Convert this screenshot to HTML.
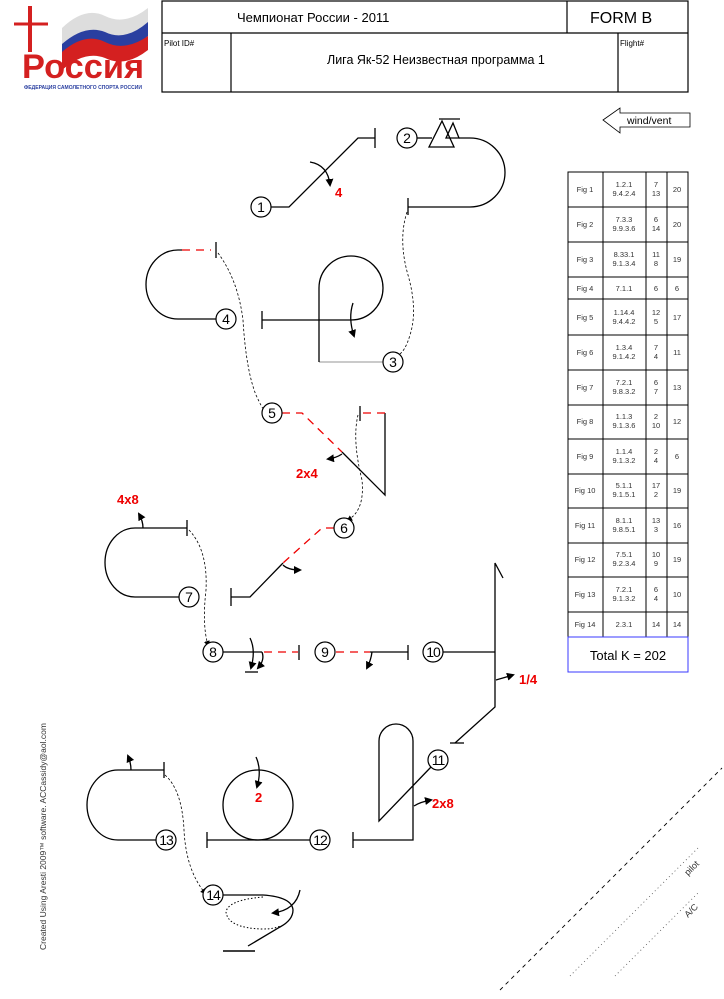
<!DOCTYPE html>
<html><head><meta charset="utf-8"><style>
html,body{margin:0;padding:0;background:#fff;}
svg{display:block;font-family:"Liberation Sans","DejaVu Sans",sans-serif;}
</style></head><body>
<svg width="724" height="999" viewBox="0 0 724 999" xmlns="http://www.w3.org/2000/svg">
<!-- logo -->
<g>
<path d="M62 40 Q85 18 105 28 Q125 38 148 20 L148 36 Q125 56 105 46 Q85 38 62 58 Z" fill="#2a3fa0"/>
<path d="M62 28 Q85 6 105 16 Q125 26 148 8 L148 22 Q125 42 105 32 Q85 24 62 44 Z" fill="#ddd"/>
<path d="M62 52 Q85 32 105 42 Q125 52 148 36 L148 50 Q125 68 105 58 Q85 50 62 70 Z" fill="#d42020"/>
<line x1="30" y1="6" x2="30" y2="52" stroke="#d42020" stroke-width="4"/>
<line x1="14" y1="24" x2="48" y2="24" stroke="#d42020" stroke-width="3"/>
<text x="22" y="78" font-size="34" font-weight="bold" fill="#d42020" textLength="122" lengthAdjust="spacingAndGlyphs">Россия</text>
<text x="24" y="89" font-size="5.5" fill="#2a3fa0" font-weight="bold" textLength="118" lengthAdjust="spacingAndGlyphs">ФЕДЕРАЦИЯ САМОЛЕТНОГО СПОРТА РОССИИ</text>
</g>
<!-- header -->
<g stroke="#000" stroke-width="1.2" fill="none">
<rect x="162" y="1" width="526" height="91"/>
<line x1="162" y1="33" x2="688" y2="33"/>
<line x1="567" y1="1" x2="567" y2="33"/>
<line x1="231" y1="33" x2="231" y2="92"/>
<line x1="618" y1="33" x2="618" y2="92"/>
</g>
<text x="237" y="22" font-size="13">Чемпионат России - 2011</text>
<text x="590" y="23" font-size="16">FORM  B</text>
<text x="164" y="46" font-size="8">Pilot ID#</text>
<text x="620" y="46" font-size="8">Flight#</text>
<text x="327" y="64" font-size="12.5">Лига Як-52  Неизвестная программа 1</text>
<!-- wind arrow -->
<path d="M603 120 L620 108 L620 113 L690 113 L690 127 L620 127 L620 133 Z" fill="none" stroke="#000" stroke-width="0.8"/>
<text x="627" y="124" font-size="10.5">wind/vent</text>
<!-- table -->
<g stroke="#000" stroke-width="1" fill="none">
<rect x="568" y="172" width="120" height="465"/>
<line x1="603" y1="172" x2="603" y2="637"/>
<line x1="646" y1="172" x2="646" y2="637"/>
<line x1="667" y1="172" x2="667" y2="637"/>
<line x1="568" y1="207" x2="688" y2="207"/>
<line x1="568" y1="242" x2="688" y2="242"/>
<line x1="568" y1="277" x2="688" y2="277"/>
<line x1="568" y1="299" x2="688" y2="299"/>
<line x1="568" y1="335" x2="688" y2="335"/>
<line x1="568" y1="370" x2="688" y2="370"/>
<line x1="568" y1="405" x2="688" y2="405"/>
<line x1="568" y1="439" x2="688" y2="439"/>
<line x1="568" y1="474" x2="688" y2="474"/>
<line x1="568" y1="508" x2="688" y2="508"/>
<line x1="568" y1="543" x2="688" y2="543"/>
<line x1="568" y1="577" x2="688" y2="577"/>
<line x1="568" y1="612" x2="688" y2="612"/>
</g>
<rect x="568" y="637" width="120" height="35" fill="none" stroke="#3a3aff" stroke-width="1"/>
<g font-size="7.5" fill="#333" text-anchor="middle">
<text x="585" y="192">Fig 1</text><text x="624" y="187">1.2.1</text><text x="624" y="196">9.4.2.4</text><text x="656" y="187">7</text><text x="656" y="196">13</text><text x="677" y="192">20</text>
<text x="585" y="227">Fig 2</text><text x="624" y="222">7.3.3</text><text x="624" y="231">9.9.3.6</text><text x="656" y="222">6</text><text x="656" y="231">14</text><text x="677" y="227">20</text>
<text x="585" y="262">Fig 3</text><text x="624" y="257">8.33.1</text><text x="624" y="266">9.1.3.4</text><text x="656" y="257">11</text><text x="656" y="266">8</text><text x="677" y="262">19</text>
<text x="585" y="291">Fig 4</text><text x="624" y="291">7.1.1</text><text x="656" y="291">6</text><text x="677" y="291">6</text>
<text x="585" y="320">Fig 5</text><text x="624" y="315">1.14.4</text><text x="624" y="324">9.4.4.2</text><text x="656" y="315">12</text><text x="656" y="324">5</text><text x="677" y="320">17</text>
<text x="585" y="355">Fig 6</text><text x="624" y="350">1.3.4</text><text x="624" y="359">9.1.4.2</text><text x="656" y="350">7</text><text x="656" y="359">4</text><text x="677" y="355">11</text>
<text x="585" y="390">Fig 7</text><text x="624" y="385">7.2.1</text><text x="624" y="394">9.8.3.2</text><text x="656" y="385">6</text><text x="656" y="394">7</text><text x="677" y="390">13</text>
<text x="585" y="424">Fig 8</text><text x="624" y="419">1.1.3</text><text x="624" y="428">9.1.3.6</text><text x="656" y="419">2</text><text x="656" y="428">10</text><text x="677" y="424">12</text>
<text x="585" y="459">Fig 9</text><text x="624" y="454">1.1.4</text><text x="624" y="463">9.1.3.2</text><text x="656" y="454">2</text><text x="656" y="463">4</text><text x="677" y="459">6</text>
<text x="585" y="493">Fig 10</text><text x="624" y="488">5.1.1</text><text x="624" y="497">9.1.5.1</text><text x="656" y="488">17</text><text x="656" y="497">2</text><text x="677" y="493">19</text>
<text x="585" y="528">Fig 11</text><text x="624" y="523">8.1.1</text><text x="624" y="532">9.8.5.1</text><text x="656" y="523">13</text><text x="656" y="532">3</text><text x="677" y="528">16</text>
<text x="585" y="562">Fig 12</text><text x="624" y="557">7.5.1</text><text x="624" y="566">9.2.3.4</text><text x="656" y="557">10</text><text x="656" y="566">9</text><text x="677" y="562">19</text>
<text x="585" y="597">Fig 13</text><text x="624" y="592">7.2.1</text><text x="624" y="601">9.1.3.2</text><text x="656" y="592">6</text><text x="656" y="601">4</text><text x="677" y="597">10</text>
<text x="585" y="627">Fig 14</text><text x="624" y="627">2.3.1</text><text x="656" y="627">14</text><text x="677" y="627">14</text>
</g>
<text x="628" y="660" font-size="13" text-anchor="middle">Total K = 202</text>

<defs><marker id="ah" markerWidth="8" markerHeight="8" refX="6" refY="4" orient="auto" markerUnits="userSpaceOnUse"><path d="M0 0 L8 4 L0 8 Z" fill="#000"/></marker>
<marker id="as" markerWidth="6" markerHeight="6" refX="4" refY="3" orient="auto" markerUnits="userSpaceOnUse"><path d="M0 0 L6 3 L0 6 Z" fill="#000"/></marker></defs>

<!-- fig3 grey bottom line -->
<line x1="319" y1="362" x2="383" y2="362" stroke="#aaa" stroke-width="1.3"/>

<g fill="none" stroke="#000" stroke-width="1.3">
<!-- fig1 -->
<path d="M271 207 L289 207 L358 138 L375 138"/><line x1="375" y1="128" x2="375" y2="148"/>
<path d="M310 162 Q328 165 330 185" marker-end="url(#ah)"/>
<!-- fig2 -->
<path d="M417 138 L432 138"/><path d="M442 121 L429 147 L454 147 Z"/><path d="M453 123 L446 138 L459 138 Z"/>
<line x1="439" y1="119" x2="460" y2="119"/>
<path d="M459 138 L470 138 A35 34.5 0 0 1 470 207 L408 207"/><line x1="408" y1="198" x2="408" y2="215"/>
<!-- fig3 -->
<path d="M319 362 L319 288 A32 32 0 1 1 351 320 L262 320" /><line x1="262" y1="311" x2="262" y2="329"/>
<path d="M353 303 Q348 318 354 336" marker-end="url(#ah)"/>
<!-- fig4 -->
<path d="M216 319 L178 319 A32 34.5 0 0 1 178 250 L182 250"/><line x1="216" y1="242" x2="216" y2="258"/>
<!-- fig5 -->
<path d="M342 452 L385 495 L385 413"/><line x1="360" y1="406" x2="360" y2="421"/>
<path d="M342 454 Q336 458 328 459" marker-end="url(#ah)"/>
<!-- fig6 -->
<path d="M283 563 L250 597 L231 597"/><line x1="231" y1="588" x2="231" y2="606"/>
<path d="M283 565 Q288 570 300 570" marker-end="url(#ah)"/>
<!-- fig7 -->
<path d="M179 597 L135 597 A30 34.5 0 0 1 135 528 L187 528"/><line x1="187" y1="520" x2="187" y2="536"/>
<path d="M143 528 Q143 521 139 514" marker-end="url(#ah)"/>
<!-- fig8 -->
<path d="M223 652 L262 652"/><line x1="299" y1="645" x2="299" y2="660"/>
<path d="M250 638 Q256 650 251 668" marker-end="url(#ah)"/>
<path d="M262 652 Q265 660 258 668" marker-end="url(#ah)"/>
<line x1="245" y1="672" x2="258" y2="672"/>
<!-- fig9 -->
<path d="M370 652 L408 652"/><line x1="408" y1="645" x2="408" y2="660"/>
<path d="M372 652 Q371 660 367 668" marker-end="url(#ah)"/>
<!-- fig10 -->
<path d="M443 652 L495 652"/><path d="M503 578 L495 563 L495 707 L455 743"/><line x1="450" y1="743" x2="464" y2="743"/>
<path d="M496 680 Q503 678 513 675" marker-end="url(#ah)"/>
<!-- fig11 -->
<path d="M431 767 L379 821 L379 741 A17 17 0 0 1 413 741 L413 840 L353 840"/><line x1="353" y1="832" x2="353" y2="848"/>
<path d="M414 806 Q420 802 431 800" marker-end="url(#ah)"/>
<!-- fig12 -->
<path d="M310 840 L207 840"/><line x1="207" y1="832" x2="207" y2="848"/>
<circle cx="258" cy="805" r="35"/>
<path d="M256 757 Q262 770 257 787" marker-end="url(#ah)"/>
<!-- fig13 -->
<path d="M156 840 L118 840 A31 35 0 0 1 118 770 L164 770"/><line x1="164" y1="762" x2="164" y2="778"/>
<path d="M131 770 Q131 763 128 756" marker-end="url(#ah)"/>
<!-- fig14 -->
<path d="M223 895 L263 895 Q292 897 293 910 Q293 920 280 927 L248 946"/>
<line x1="223" y1="951" x2="255" y2="951" stroke-width="1.5"/>
<path d="M300 890 Q296 910 273 913" marker-end="url(#ah)"/>
</g>
<path d="M263 897 Q228 900 226 912 Q228 928 262 929 Q275 929 280 926" fill="none" stroke="#000" stroke-width="1" stroke-dasharray="1.5 2"/>

<g fill="none" stroke="#e00" stroke-width="1.3" stroke-dasharray="8 6">
<path d="M182 250 L211 250"/>
<path d="M282 413 L302 413 L342 452"/>
<path d="M385 413 L362 413"/>
<path d="M334 528 L322 528 L283 563"/>
<path d="M264 652 L298 652"/>
<path d="M336 652 L370 652"/>
</g>

<g fill="none" stroke="#000" stroke-width="0.8" stroke-dasharray="2.5 2">
<path d="M407 212 Q398 240 408 275 Q418 310 410 335 Q405 352 398 355"/>
<path d="M218 253 Q238 280 243 320 Q246 370 256 395 Q262 408 264 410"/>
<path d="M358 415 Q352 440 362 480 Q365 510 348 520" marker-end="url(#as)"/>
<path d="M189 530 Q208 550 206 590 Q202 625 208 645" marker-end="url(#as)"/>
<path d="M165 775 Q182 790 184 830 Q186 870 205 893" marker-end="url(#as)"/>
</g>

<g fill="#fff" stroke="#000" stroke-width="1.2">
<circle cx="261" cy="207" r="10"/><circle cx="407" cy="138" r="10"/><circle cx="393" cy="362" r="10"/>
<circle cx="226" cy="319" r="10"/><circle cx="272" cy="413" r="10"/><circle cx="344" cy="528" r="10"/>
<circle cx="189" cy="597" r="10"/><circle cx="213" cy="652" r="10"/><circle cx="325" cy="652" r="10"/>
<circle cx="433" cy="652" r="10"/><circle cx="438" cy="760" r="10"/><circle cx="320" cy="840" r="10"/>
<circle cx="166" cy="840" r="10"/><circle cx="213" cy="895" r="10"/>
</g>
<g font-size="14" text-anchor="middle">
<text x="261" y="212">1</text><text x="407" y="143">2</text><text x="393" y="367">3</text>
<text x="226" y="324">4</text><text x="272" y="418">5</text><text x="344" y="533">6</text>
<text x="189" y="602">7</text><text x="213" y="657">8</text><text x="325" y="657">9</text>
<text x="433" y="657" letter-spacing="-1">10</text><text x="438" y="765" letter-spacing="-1">11</text><text x="320" y="845" letter-spacing="-1">12</text>
<text x="166" y="845" letter-spacing="-1">13</text><text x="213" y="900" letter-spacing="-1">14</text>
</g>
<g fill="#e00" font-weight="bold" font-size="13">
<text x="335" y="197">4</text>
<text x="296" y="478">2x4</text>
<text x="117" y="504">4x8</text>
<text x="519" y="684">1/4</text>
<text x="432" y="808">2x8</text>
<text x="255" y="802">2</text>
</g>
<text transform="translate(46,950) rotate(-90)" font-size="8.5" fill="#333">Created Using Aresti 2009™ software.  ACCassidy@aol.com</text>
<line x1="500" y1="990" x2="722" y2="768" stroke="#000" stroke-width="0.9" stroke-dasharray="4 4"/>
<line x1="570" y1="976" x2="699" y2="847" stroke="#555" stroke-width="0.8" stroke-dasharray="1 3"/>
<line x1="615" y1="976" x2="699" y2="892" stroke="#555" stroke-width="0.8" stroke-dasharray="1 3"/>
<text transform="translate(688,876) rotate(-45)" font-size="9" fill="#333">pilot</text>
<text transform="translate(688,918) rotate(-45)" font-size="9" fill="#333">A/C</text>
</svg>
</body></html>
